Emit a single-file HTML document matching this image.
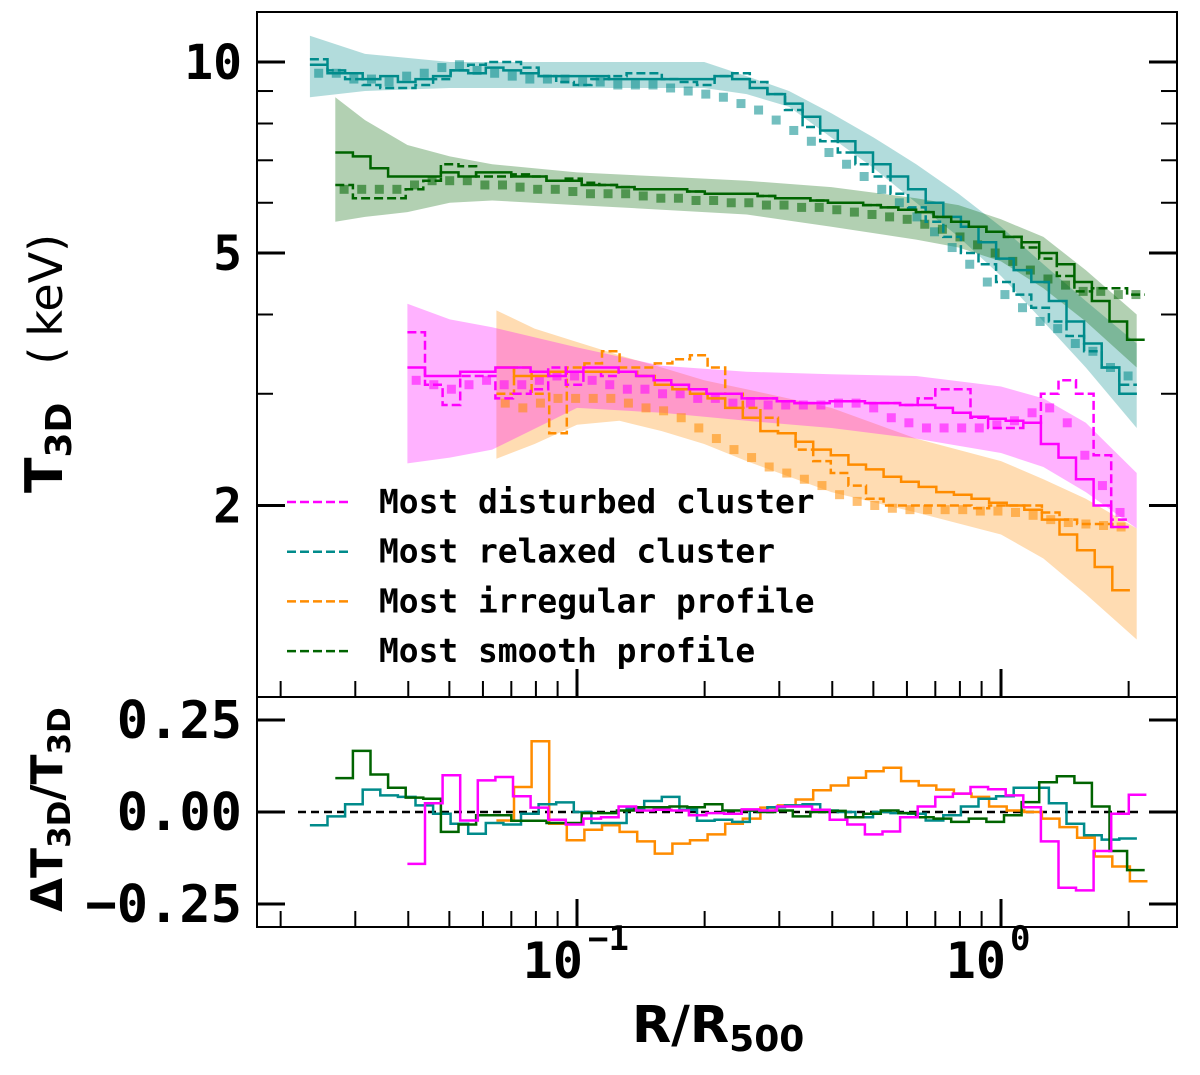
<!DOCTYPE html>
<html><head><meta charset="utf-8"><style>
html,body{margin:0;padding:0;background:#fff;}
svg{display:block;}
text{font-family:"DejaVu Sans Mono","Liberation Mono",monospace;font-weight:bold;fill:#000;}
.sans{font-family:"DejaVu Sans","Liberation Sans",sans-serif;}
</style></head><body>
<svg id="chart" width="1200" height="1075" viewBox="0 0 1200 1075" xmlns="http://www.w3.org/2000/svg">
<defs>
<clipPath id="clipTop"><rect x="257" y="12" width="920" height="685"/></clipPath>
<clipPath id="clipBot"><rect x="257" y="697" width="920" height="230"/></clipPath>
</defs>
<g id="topMarks" clip-path="url(#clipTop)"></g>
<g id="botMarks" clip-path="url(#clipBot)"></g>
<g id="axes"></g>
<g id="legend"></g>
<text x="583" y="978" font-size="50" text-anchor="end">10</text>
<text x="588" y="950" font-size="34">−1</text>
<text x="1006" y="978" font-size="50" text-anchor="end">10</text>
<text x="1010" y="950" font-size="34">0</text>
<text class="sans" x="632" y="1042" font-size="51">R/R<tspan font-size="36" dy="9">500</tspan></text>
<text class="sans" transform="translate(62,493) rotate(-90)" font-size="52">T<tspan font-size="36" dy="9">3D</tspan><tspan dy="-9" dx="38" font-weight="normal" font-size="46">(</tspan><tspan dx="10" font-weight="normal" font-size="46">keV)</tspan></text>
<text class="sans" transform="translate(62,912) rotate(-90)" font-size="44">ΔT<tspan font-size="31" dy="8">3D</tspan><tspan dy="-8">/T</tspan><tspan font-size="31" dy="8">3D</tspan></text>
</svg>
<script>
// ---------- data ----------
const binWidth = 0.0415;
const tealStart = -1.63, greenStart = -1.57, magStart = -1.40, orgStart = -1.19;
const tealSolid = [9.9,9.6,9.6,9.4,9.5,9.3,9.4,9.5,9.7,9.6,9.8,9.7,9.6,9.5,9.5,9.5,9.5,9.4,9.4,9.4,9.4,9.4,9.4,9.5,9.4,9.1,8.9,8.6,8.2,7.8,7.5,7.2,6.9,6.6,6.3,6.0,5.7,5.5,5.2,4.9,4.7,4.5,4.2,3.9,3.6,3.3,3.0];
const tealDashed = [10.1,9.7,9.4,9.2,9.1,9.1,9.2,9.4,9.7,9.9,10.0,10.0,9.8,9.5,9.3,9.2,9.4,9.5,9.6,9.6,9.4,9.3,9.2,9.5,9.6,9.3,8.9,8.4,7.9,7.5,7.2,6.9,6.6,6.2,5.9,5.6,5.3,5.0,4.8,4.5,4.3,4.1,3.9,3.7,3.5,3.3,3.1];
const tealSquares = [9.6,9.6,9.4,9.4,9.3,9.5,9.6,9.8,9.9,9.7,9.6,9.5,9.4,9.4,9.4,9.3,9.3,9.2,9.2,9.2,9.1,9.0,8.9,8.8,8.6,8.4,8.1,7.8,7.5,7.2,6.9,6.6,6.3,6.0,5.7,5.4,5.1,4.8,4.5,4.3,4.1,3.9,3.8,3.6,3.5,3.3,3.2];
const tealBandX = [-1.63,-1.5,-1.3,-1.1,-0.9,-0.7,-0.6,-0.5,-0.4,-0.3,-0.2,-0.1,0,0.1,0.2,0.32];
const tealBandHi = [11.0,10.3,10.0,10.0,10.0,10.0,9.5,9.0,8.3,7.6,6.9,6.2,5.5,4.8,4.2,3.6];
const tealBandLo = [8.8,9.0,9.1,9.1,9.1,9.1,8.9,8.5,7.6,6.8,6.0,5.3,4.6,3.9,3.3,2.65];

const greenSolid = [7.2,7.1,6.8,6.6,6.6,6.6,6.7,6.6,6.7,6.7,6.6,6.6,6.5,6.5,6.4,6.4,6.35,6.3,6.3,6.3,6.25,6.2,6.2,6.2,6.15,6.1,6.1,6.05,6.0,6.0,5.95,5.9,5.85,5.8,5.7,5.6,5.5,5.4,5.3,5.2,5.0,4.8,4.5,4.2,3.9,3.65];
const greenDashed = [6.4,6.1,6.1,6.1,6.3,6.5,6.9,6.85,6.6,6.6,6.65,6.6,6.5,6.55,6.45,6.4,6.35,6.3,6.3,6.3,6.25,6.2,6.2,6.2,6.15,6.1,6.1,6.05,6.0,6.0,5.95,5.9,5.85,5.8,5.7,5.6,5.5,5.4,5.3,5.1,4.9,4.6,4.35,4.4,4.4,4.3];
const greenSquares = [6.3,6.3,6.3,6.3,6.4,6.5,6.5,6.5,6.4,6.4,6.35,6.3,6.3,6.25,6.2,6.2,6.2,6.15,6.1,6.1,6.05,6.05,6.0,6.0,5.95,5.95,5.9,5.9,5.85,5.8,5.75,5.7,5.65,5.55,5.45,5.3,5.15,5.0,4.85,4.7,4.55,4.45,4.35,4.35,4.3,4.3];
const greenBandX = [-1.57,-1.5,-1.4,-1.3,-1.2,-1.0,-0.8,-0.6,-0.4,-0.2,-0.1,0,0.1,0.2,0.32];
const greenBandHi = [8.8,8.1,7.4,7.1,6.9,6.7,6.6,6.5,6.35,6.1,5.95,5.65,5.3,4.7,4.0];
const greenBandLo = [5.6,5.7,5.8,6.0,6.05,5.95,5.85,5.75,5.5,5.25,5.1,4.85,4.4,3.9,3.3];

const magSolid = [3.3,3.2,3.2,3.25,3.25,3.3,3.3,3.25,3.2,3.25,3.3,3.3,3.25,3.2,3.15,3.1,3.05,3.0,3.0,2.95,2.95,2.92,2.9,2.9,2.92,2.92,2.9,2.9,2.88,2.88,2.85,2.8,2.76,2.74,2.72,2.7,2.5,2.38,2.2,2.0,1.85];
const magDashed = [3.75,3.1,2.88,3.2,3.2,2.95,3.0,3.05,3.3,3.1,3.25,3.2,3.25,3.2,3.15,3.1,3.05,3.0,3.0,2.95,2.95,2.92,2.9,2.9,2.92,2.92,2.9,2.9,2.88,2.95,3.05,3.05,2.75,2.65,2.65,2.7,3.0,3.15,3.0,2.4,1.9];
const magSquares = [3.15,3.1,3.05,3.1,3.15,3.1,3.1,3.15,3.2,3.2,3.15,3.1,3.05,3.05,3.0,3.0,2.95,2.95,2.9,2.9,2.88,2.88,2.88,2.88,2.9,2.9,2.85,2.75,2.7,2.65,2.65,2.65,2.65,2.68,2.72,2.8,2.85,2.7,2.4,2.15,1.95];
const magBandX = [-1.40,-1.3,-1.2,-1.0,-0.8,-0.6,-0.4,-0.2,0,0.1,0.2,0.32];
const magBandHi = [4.16,3.93,3.82,3.55,3.32,3.25,3.22,3.2,3.08,2.95,2.7,2.25];
const magBandLo = [2.33,2.38,2.45,2.85,2.8,2.72,2.65,2.55,2.42,2.3,2.1,1.84];

const orgSolid = [3.3,3.2,3.2,3.25,3.25,3.25,3.25,3.25,3.2,3.1,3.05,3.0,2.95,2.85,2.75,2.62,2.6,2.52,2.45,2.4,2.32,2.28,2.22,2.18,2.14,2.1,2.08,2.05,2.02,2.0,1.97,1.9,1.8,1.7,1.6,1.47];
const orgDashed = [3.0,3.3,3.0,2.6,3.3,3.35,3.5,3.3,3.3,3.35,3.4,3.45,3.3,3.0,2.85,2.75,2.6,2.45,2.35,2.25,2.15,2.05,2.0,2.0,2.0,2.0,2.0,1.98,2.0,2.0,2.0,1.95,1.9,1.87,1.87,1.85];
const orgSquares = [2.9,2.85,2.9,2.95,2.95,2.95,2.95,2.9,2.85,2.82,2.75,2.65,2.55,2.45,2.38,2.3,2.25,2.2,2.15,2.08,2.03,2.0,1.98,1.97,1.97,1.97,1.97,1.96,1.96,1.95,1.93,1.9,1.88,1.87,1.86,1.85];
const orgBandX = [-1.19,-1.1,-1.0,-0.9,-0.8,-0.7,-0.6,-0.4,-0.2,0,0.1,0.2,0.32];
const orgBandHi = [4.06,3.8,3.62,3.45,3.3,3.15,3.05,2.85,2.55,2.35,2.2,2.05,1.84];
const orgBandLo = [2.37,2.5,2.68,2.72,2.62,2.5,2.35,2.1,1.95,1.8,1.65,1.45,1.23];

const tealRes = [-0.036,-0.012,0.021,0.061,0.045,0.041,0.018,-0.005,-0.032,-0.059,-0.030,-0.034,-0.005,0.021,0.026,0.0,-0.03,-0.03,0.009,0.030,0.041,0.006,-0.024,-0.021,-0.027,0.004,0.013,0.018,0.021,0.004,0.0,-0.014,0.0,-0.003,-0.005,-0.023,-0.009,0.015,0.036,0.043,0.066,0.066,0.024,-0.032,-0.063,-0.075,-0.072];
const greenRes = [0.092,0.166,0.102,0.066,0.039,0.036,-0.054,-0.034,-0.009,-0.009,-0.024,-0.024,-0.030,-0.030,-0.003,-0.003,0.004,0.013,0.013,0.015,0.013,0.021,0.004,0.004,0.0,0.004,-0.012,0.0,0.003,-0.014,-0.005,0.004,-0.003,-0.014,-0.018,-0.027,-0.018,-0.027,-0.009,0.027,0.081,0.097,0.079,0.015,-0.106,-0.158];
const magRes = [-0.141,0.024,0.1,-0.023,0.086,0.095,0.043,0.012,-0.021,-0.034,-0.018,-0.014,0.015,0.004,0.006,0.004,-0.009,-0.003,-0.005,0.007,0.004,0.015,0.015,0.006,-0.021,-0.034,-0.061,-0.053,-0.014,0.015,0.041,0.05,0.068,0.062,0.045,0.013,-0.08,-0.206,-0.213,-0.106,-0.005,0.047];
const orgRes = [-0.023,0.068,0.192,-0.032,-0.077,-0.048,-0.036,-0.054,-0.080,-0.113,-0.086,-0.077,-0.061,-0.032,-0.018,0.012,0.018,0.034,0.059,0.072,0.093,0.111,0.12,0.084,0.072,0.061,0.05,0.041,0.015,0.004,0.0,-0.018,-0.041,-0.070,-0.121,-0.148,-0.188];

const yTicksTop = [2,5,10];
const yMinorTop = [3,4,6,7,8,9];
const yTicksRes = [0.25,0,-0.25];
const yTickResLabels = ["0.25","0.00","−0.25"];
const legendLabels = ["Most disturbed cluster","Most relaxed cluster","Most irregular profile","Most smooth profile"];
const legendColors = ["#ff00ff","#008b8b","#ff8c00","#006400"];

// ---------- axes functions ----------
const NS = "http://www.w3.org/2000/svg";
function xPx(logR){ return 577 + 424*(logR + 1); }
function yTop(T){ return 62 + (1 - Math.log10(T))*634.5; }
function yRes(v){ return 812 - v*368; }
function mk(tag, attrs, parent){
  const e = document.createElementNS(NS, tag);
  for (const k in attrs) e.setAttribute(k, attrs[k]);
  parent.appendChild(e);
  return e;
}
const top_ = document.getElementById('topMarks');
const bot = document.getElementById('botMarks');
const axes = document.getElementById('axes');
const leg = document.getElementById('legend');

function stepPath(start, vals, yf){
  let d = '';
  vals.forEach((v,i)=>{
    const x0 = xPx(start + i*binWidth), x1 = xPx(start + (i+1)*binWidth), y = yf(v);
    d += (i===0 ? 'M'+x0.toFixed(1)+' '+y.toFixed(1) : 'V'+y.toFixed(1)) + 'H'+x1.toFixed(1);
  });
  return d;
}
function band(xs, lo, hi, color, name){
  let d = 'M';
  xs.forEach((x,i)=>{ d += (i?'L':'') + xPx(x).toFixed(1)+' '+yTop(hi[i]).toFixed(1); });
  for (let i = xs.length-1; i>=0; i--) d += 'L'+xPx(xs[i]).toFixed(1)+' '+yTop(lo[i]).toFixed(1);
  const p = mk('path', {d: d+'Z', fill: color, 'fill-opacity': 0.3, stroke: 'none'}, top_);
  
  
}
function squares(start, vals, color, name){
  const g = mk('g', {fill: color, 'fill-opacity': 0.55}, top_);
  
  
  vals.forEach((v,i)=>{
    const cx = xPx(start + (i+0.5)*binWidth), cy = yTop(v);
    const r = mk('rect', {x: cx-4.5, y: cy-4.5, width: 9, height: 9}, g);
    
    
  });
}
function line(parent, start, vals, yf, color, dashed, name){
  const attrs = {d: stepPath(start, vals, yf), fill: 'none', stroke: color, 'stroke-width': 2.5};
  if (dashed) attrs['stroke-dasharray'] = '9 4';
  const p = mk('path', attrs, parent);
  
  
}

band(tealBandX, tealBandLo, tealBandHi, '#008b8b', 'relaxed-band');
band(greenBandX, greenBandLo, greenBandHi, '#006400', 'smooth-band');
band(orgBandX, orgBandLo, orgBandHi, '#ff8c00', 'irregular-band');
band(magBandX, magBandLo, magBandHi, '#ff00ff', 'disturbed-band');
squares(tealStart, tealSquares, '#008b8b', 'relaxed-squares');
squares(greenStart, greenSquares, '#006400', 'smooth-squares');
squares(orgStart, orgSquares, '#ff8c00', 'irregular-squares');
squares(magStart, magSquares, '#ff00ff', 'disturbed-squares');
line(top_, tealStart, tealDashed, yTop, '#008b8b', true, 'relaxed-dashed-line');
line(top_, greenStart, greenDashed, yTop, '#006400', true, 'smooth-dashed-line');
line(top_, orgStart, orgDashed, yTop, '#ff8c00', true, 'irregular-dashed-line');
line(top_, magStart, magDashed, yTop, '#ff00ff', true, 'disturbed-dashed-line');
line(top_, tealStart, tealSolid, yTop, '#008b8b', false, 'relaxed-solid-line');
line(top_, greenStart, greenSolid, yTop, '#006400', false, 'smooth-solid-line');
line(top_, orgStart, orgSolid, yTop, '#ff8c00', false, 'irregular-solid-line');
line(top_, magStart, magSolid, yTop, '#ff00ff', false, 'disturbed-solid-line');

const zl = mk('line', {x1: 298, x2: 1140, y1: yRes(0), y2: yRes(0), stroke: '#000', 'stroke-width': 2.5, 'stroke-dasharray': '8 5'}, bot);


line(bot, orgStart, orgRes, yRes, '#ff8c00', false, 'irregular-residual');
line(bot, tealStart, tealRes, yRes, '#008b8b', false, 'relaxed-residual');
line(bot, greenStart, greenRes, yRes, '#006400', false, 'smooth-residual');
line(bot, magStart, magRes, yRes, '#ff00ff', false, 'disturbed-residual');

const f1 = mk('rect', {x: 257, y: 12, width: 920, height: 685, fill: 'none', stroke: '#000', 'stroke-width': 2}, axes);


const f2 = mk('rect', {x: 257, y: 697, width: 920, height: 230, fill: 'none', stroke: '#000', 'stroke-width': 2}, axes);



function tick(x1,y1,x2,y2,w,name){
  const t = mk('line', {x1:x1,y1:y1,x2:x2,y2:y2,stroke:'#000','stroke-width':w}, axes);
  
  
}
yTicksTop.forEach(v=>{
  const y = yTop(v);
  tick(257,y,285,y,3,'y-major-tick');
  tick(1149,y,1177,y,3,'y-major-tick');
  const t = mk('text', {x: 242, y: y+17, 'font-size': 48, 'text-anchor': 'end'}, axes);
  t.textContent = String(v);
  
  
});
yMinorTop.forEach(v=>{
  const y = yTop(v);
  tick(257,y,273,y,2,'y-minor-tick');
  tick(1161,y,1177,y,2,'y-minor-tick');
});
yTicksRes.forEach((v,i)=>{
  const y = yRes(v);
  tick(257,y,285,y,3,'residual-y-tick');
  tick(1149,y,1177,y,3,'residual-y-tick');
  const t = mk('text', {x: 242, y: y+18, 'font-size': 52, 'text-anchor': 'end'}, axes);
  t.textContent = yTickResLabels[i];
  
  
});
for (let dec = -2; dec <= 0; dec++){
  for (let m = 1; m <= 9; m++){
    const lg = dec + Math.log10(m);
    const x = xPx(lg);
    if (x < 258 || x > 1176) continue;
    const major = (m === 1);
    const L = major ? 28 : 16;
    tick(x,697,x,697-L,major?3:2,'x-tick-top-panel');
    tick(x,927,x,927-L,major?3:2,'x-tick-residual-panel');
  }
}
legendLabels.forEach((lab,i)=>{
  const y = 502 + i*49.7;
  const l = mk('line', {x1: 287, x2: 352, y1: y, y2: y, stroke: legendColors[i], 'stroke-width': 2.5, 'stroke-dasharray': '9 4'}, leg);
  
  
  const t = mk('text', {x: 379, y: y+11, 'font-size': 33, textLength: lab.length*19.8, lengthAdjust: 'spacingAndGlyphs'}, leg);
  t.textContent = lab;
  
  
});
</script>
</body></html>
